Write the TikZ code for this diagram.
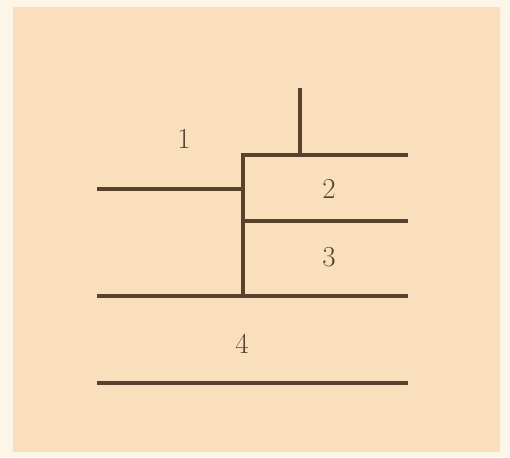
\documentclass[tikz,border=0pt]{standalone}
\definecolor{paper}{RGB}{249,223,188}
\definecolor{edge}{RGB}{253,246,232}
\definecolor{ink}{RGB}{88,66,45}
\begin{document}
\begin{tikzpicture}[x=1pt,y=-1pt,
  wall/.style={draw=ink,line width=3.3pt},
  lbl/.style={text=ink,font=\fontsize{29}{32}\selectfont,inner sep=0pt}]
\useasboundingbox (0,0) rectangle (510,457);
\fill[edge] (0,0) rectangle (510,457);
\fill[paper] (13,7) rectangle (500,452);
\coordinate (t1) at (300,88);
\coordinate (t2) at (300,155);
\coordinate (a) at (243,155);
\coordinate (b) at (408,155);
\coordinate (c) at (243,296);
\coordinate (d1) at (97,189);
\coordinate (d2) at (243,189);
\coordinate (e1) at (243,221);
\coordinate (e2) at (408,221);
\coordinate (f1) at (97,296);
\coordinate (f2) at (408,296);
\coordinate (g1) at (97,383);
\coordinate (g2) at (408,383);
\draw[wall] (t1) -- (t2);
\draw[wall] (c) -- (a) -- (b);
\draw[wall] (d1) -- (d2);
\draw[wall] (e1) -- (e2);
\draw[wall] (f1) -- (f2);
\draw[wall] (g1) -- (g2);
\node[lbl] (n1) at (184,139) {1};
\node[lbl] (n2) at (329,189) {2};
\node[lbl] (n3) at (329,257) {3};
\node[lbl] (n4) at (242,344) {4};
\end{tikzpicture}
\end{document}
